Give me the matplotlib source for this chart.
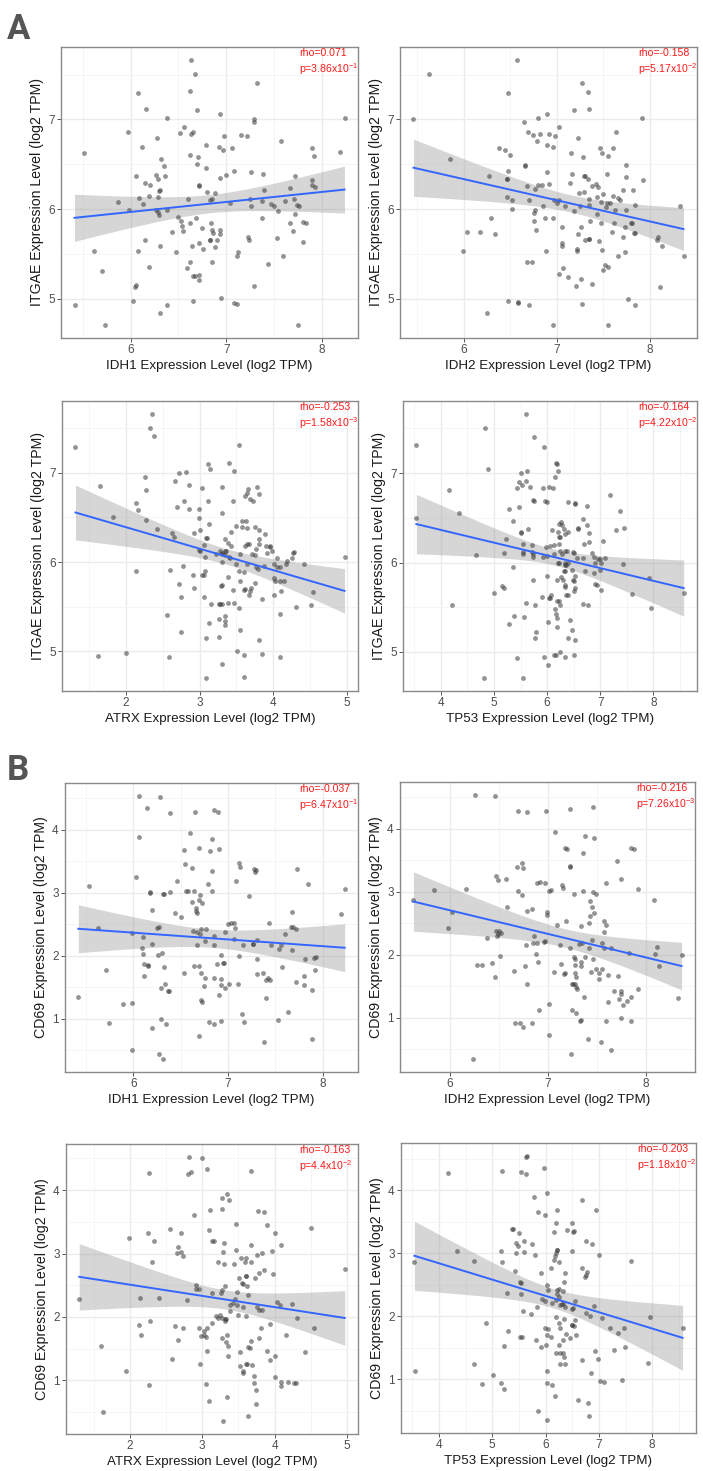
import numpy as np
import matplotlib
matplotlib.use("Agg")
import matplotlib.pyplot as plt
from matplotlib.ticker import MultipleLocator

plt.rcParams['font.family'] = ['Liberation Sans', 'DejaVu Sans']
plt.rcParams['mathtext.fontset'] = 'custom'
plt.rcParams['mathtext.rm'] = 'Liberation Sans'

# ---------------- data ----------------
A_IDH1 = [(6.63,7.66),(6.67,7.51),(6.62,7.32),(7.32,7.41),(6.08,7.29),(6.69,7.10),(6.16,7.12),(6.38,7.02),
 (6.93,7.06),(7.29,7.01),(7.29,6.97),(8.24,7.02),(5.97,6.86),(6.56,6.91),(6.65,6.86),(6.63,6.84),(6.52,6.85),
 (7.16,6.83),(7.22,6.82),(6.98,6.81),(6.79,6.71),(7.57,6.76),(6.12,6.69),(6.27,6.79),(6.92,6.69),(6.97,6.66),
 (7.06,6.68),(7.90,6.68),(7.92,6.59),(8.19,6.64),(5.51,6.62),(6.62,6.60),(6.70,6.58),(6.32,6.56),(6.35,6.48),
 (6.69,6.50),(6.79,6.46),(7.08,6.43),(7.00,6.38),(6.93,6.35),(7.26,6.41),(7.39,6.39),(7.72,6.37),(6.05,6.37),
 (6.26,6.38),(6.15,6.29),(6.28,6.34),(6.36,6.37),(6.31,6.21),(6.20,6.27),(6.19,6.15),(6.72,6.27),(6.71,6.26),
 (6.80,6.19),(6.88,6.18),(7.67,6.23),(7.90,6.32),(7.90,6.27),(7.93,6.25),(5.87,6.08),(6.09,6.12),(6.13,6.06),
 (6.28,6.13),(6.30,6.20),(6.60,6.11),(6.83,6.10),(6.85,6.11),(7.04,6.07),(7.25,6.11),(7.26,6.04),(7.38,6.09),
 (7.40,6.21),(7.47,6.06),(7.50,6.03),(7.54,5.98),(7.62,6.09),(7.71,6.11),(7.74,6.05),(7.76,6.04),(5.98,5.99),
 (6.26,5.99),(6.28,5.97),(6.38,5.99),(6.30,5.93),(6.49,5.91),(6.53,5.87),(6.54,5.81),(6.62,5.84),(6.68,5.90),
 (6.75,5.79),(6.84,5.84),(6.85,5.77),(6.86,5.73),(6.93,5.77),(6.94,5.72),(6.90,5.66),(6.83,5.65),(6.72,5.62),
 (6.64,5.59),(6.76,5.55),(6.83,5.66),(6.88,5.58),(6.85,5.41),(6.43,5.75),(6.31,5.59),(6.15,5.66),(6.08,5.53),
 (5.61,5.53),(5.70,5.31),(6.19,5.35),(6.04,5.13),(6.05,5.15),(6.02,4.97),(5.41,4.93),(5.73,4.71),(6.31,4.84),
 (6.38,4.93),(6.65,4.97),(6.65,5.25),(6.59,5.34),(6.62,5.41),(6.71,5.27),(6.71,5.21),(6.67,5.25),(6.95,5.01),
 (7.08,4.95),(7.11,4.94),(7.12,5.52),(7.11,5.48),(7.23,5.69),(7.24,5.66),(7.38,5.90),(7.44,5.39),(7.53,5.68),
 (7.60,5.48),(7.72,5.95),(7.70,5.76),(7.67,5.85),(7.81,5.63),(7.81,5.86),(7.84,5.84),(7.75,4.71),(7.29,5.14),
 (6.47,5.52),(6.55,5.76)]

A_IDH2 = [(5.46,7.00),(5.63,7.51),(6.57,7.66),(7.27,7.41),(7.33,7.31),(6.47,7.29),(7.35,7.12),(7.18,7.10),
 (6.89,7.06),(6.80,7.02),(7.91,7.02),(6.65,6.97),(6.69,6.86),(6.74,6.83),(6.82,6.84),(7.02,6.92),(6.98,6.81),
 (6.91,6.84),(6.79,6.76),(6.96,6.69),(7.23,6.79),(7.64,6.86),(6.38,6.68),(6.44,6.66),(6.50,6.60),(6.89,6.71),
 (7.15,6.63),(7.28,6.58),(7.46,6.68),(7.48,6.63),(7.55,6.59),(7.60,6.68),(5.85,6.56),(6.66,6.49),(6.66,6.48),
 (6.48,6.43),(6.89,6.41),(7.16,6.39),(7.29,6.37),(7.30,6.37),(7.33,6.33),(7.54,6.39),(7.74,6.49),(7.74,6.36),
 (7.92,6.32),(6.27,6.37),(6.46,6.34),(6.46,6.33),(6.80,6.27),(6.84,6.27),(6.91,6.28),(6.68,6.26),(6.77,6.22),
 (7.14,6.29),(7.24,6.18),(7.29,6.19),(7.35,6.11),(7.44,6.25),(7.38,6.26),(7.42,6.28),(7.43,6.14),(7.50,6.17),
 (7.54,6.07),(7.57,6.07),(7.60,6.15),(7.68,6.10),(7.66,6.12),(7.71,6.21),(7.82,6.21),(7.84,6.05),(6.46,6.13),
 (6.52,6.10),(6.52,6.00),(6.70,6.10),(6.76,5.99),(6.75,5.96),(6.85,6.04),(6.97,6.10),(7.02,6.10),(7.09,6.04),
 (7.18,5.98),(7.25,6.03),(7.00,6.07),(7.35,6.05),(7.47,6.08),(7.43,5.94),(7.53,6.02),(7.62,5.99),(7.74,5.99),
 (7.61,5.85),(7.59,5.75),(7.47,5.85),(7.36,5.87),(7.26,5.80),(7.73,5.80),(7.80,5.85),(7.81,5.84),(7.84,5.73),
 (6.29,5.90),(6.34,5.72),(6.17,5.75),(6.03,5.75),(5.99,5.53),(6.75,5.87),(6.78,5.77),(6.87,5.90),(6.96,5.90),
 (7.05,5.80),(7.06,5.62),(7.06,5.59),(7.23,5.72),(7.22,5.55),(7.22,5.53),(7.30,5.66),(7.34,5.67),(7.35,5.67),
 (7.45,5.64),(7.48,5.54),(7.50,5.32),(7.52,5.38),(7.55,5.35),(7.66,5.48),(7.73,5.52),(7.71,5.69),(7.83,5.73),
 (8.08,5.66),(8.09,5.69),(8.13,5.59),(8.36,5.48),(8.32,6.04),(8.11,5.13),(7.76,5.00),(7.84,4.93),(7.55,4.71),
 (7.27,4.94),(7.02,5.28),(7.07,5.34),(7.12,5.24),(7.21,5.14),(7.26,5.22),(7.38,5.16),(6.88,5.53),(6.68,5.41),
 (6.73,5.41),(6.47,4.97),(6.58,4.96),(6.58,4.95),(6.70,4.93),(6.25,4.84),(6.96,4.71)]

A_ATRX = [(2.35,7.66),(2.32,7.51),(2.38,7.41),(1.31,7.29),(3.54,7.31),(3.11,7.10),(3.14,7.05),(3.40,7.11),
 (3.47,7.02),(2.81,7.01),(2.72,7.00),(2.25,6.96),(2.66,6.91),(1.64,6.85),(2.27,6.81),(3.03,6.83),(3.31,6.84),
 (3.66,6.82),(3.65,6.78),(3.78,6.84),(2.85,6.86),(3.69,6.71),(3.73,6.69),(3.62,6.74),(3.81,6.76),(3.11,6.69),
 (2.79,6.68),(3.45,6.68),(2.13,6.66),(2.16,6.58),(2.69,6.62),(2.86,6.59),(1.82,6.50),(2.27,6.47),(2.99,6.59),
 (3.30,6.55),(2.99,6.49),(3.13,6.43),(2.92,6.33),(3.00,6.36),(2.62,6.33),(2.65,6.28),(2.42,6.37),(3.57,6.46),
 (3.49,6.40),(3.63,6.46),(3.65,6.38),(3.75,6.39),(3.81,6.36),(3.89,6.32),(3.10,6.27),(3.08,6.27),(3.42,6.34),
 (3.58,6.39),(3.35,6.26),(3.34,6.12),(3.43,6.18),(3.38,6.21),(3.80,6.26),(3.80,6.20),(3.77,6.15),(3.62,6.18),
 (3.65,6.20),(3.67,6.20),(3.90,6.18),(3.95,6.18),(3.96,6.17),(3.91,6.10),(3.28,6.12),(3.36,6.12),(3.31,6.10),
 (2.99,6.14),(3.00,6.12),(3.06,6.19),(3.22,6.09),(3.30,6.09),(3.07,6.06),(3.34,6.08),(3.41,6.04),(3.55,6.09),
 (3.71,6.09),(3.75,6.08),(3.99,6.12),(4.05,6.04),(4.19,6.01),(4.26,6.05),(4.27,6.10),(4.28,6.11),(4.42,5.98),
 (4.01,5.98),(4.05,5.94),(4.09,5.94),(4.18,5.98),(3.31,6.00),(3.40,6.06),(3.50,5.98),(3.54,5.90),(3.65,5.98),
 (3.76,5.94),(3.79,5.92),(3.87,5.95),(3.07,5.90),(3.06,5.85),(2.91,5.85),(3.03,5.85),(3.30,5.74),(2.77,5.95),
 (2.60,5.91),(2.72,5.75),(2.92,5.71),(3.06,5.61),(3.38,5.83),(3.29,5.73),(3.45,5.69),(3.55,5.79),(3.60,5.69),
 (3.62,5.70),(3.67,5.63),(3.69,5.68),(3.70,5.71),(3.60,5.89),(3.75,5.77),(4.02,5.79),(4.01,5.82),(4.09,5.79),
 (4.15,5.79),(3.85,5.59),(4.01,5.63),(4.10,5.68),(4.54,5.66),(4.31,5.49),(4.51,5.52),(4.97,6.06),(3.15,5.53),
 (3.26,5.53),(3.27,5.53),(3.30,5.53),(3.39,5.54),(3.46,5.54),(3.53,5.48),(2.75,5.61),(2.56,5.41),(2.14,5.90),
 (2.74,5.22),(3.12,5.31),(3.26,5.36),(3.35,5.39),(3.35,5.34),(3.35,5.29),(3.26,5.16),(3.09,5.15),(3.55,5.24),
 (3.81,5.12),(4.09,5.42),(3.51,5.00),(3.60,4.96),(3.85,4.97),(4.09,4.93),(1.61,4.94),(2.00,4.98),(2.58,4.93),
 (3.30,4.85),(3.08,4.70),(3.60,4.71)]

A_TP53 = [(5.60,7.66),(4.84,7.50),(5.75,7.41),(3.54,7.31),(5.95,7.29),(4.89,7.05),(6.17,7.11),(6.18,7.10),
 (6.20,7.02),(6.14,6.96),(5.63,7.02),(5.51,7.00),(5.47,6.90),(5.53,6.87),(5.60,6.91),(5.44,6.83),(5.68,6.85),
 (5.93,6.83),(6.03,6.85),(6.12,6.83),(5.96,6.69),(5.99,6.68),(6.39,6.68),(6.52,6.67),(6.53,6.66),(4.16,6.81),
 (4.34,6.55),(7.19,6.76),(5.74,6.70),(5.75,6.69),(5.48,6.62),(6.75,6.63),(5.28,6.60),(5.35,6.47),(7.37,6.58),
 (5.65,6.37),(7.45,6.39),(7.30,6.36),(3.54,6.50),(5.51,6.34),(5.51,6.33),(6.09,6.36),(6.20,6.34),(6.23,6.43),
 (6.26,6.45),(6.29,6.42),(6.32,6.37),(6.33,6.32),(6.40,6.34),(6.59,6.39),(6.59,6.38),(6.67,6.49),(6.75,6.42),
 (6.78,6.33),(6.70,6.21),(6.79,6.23),(7.05,6.24),(6.23,6.29),(6.25,6.29),(6.23,6.21),(6.13,6.20),(6.05,6.18),
 (5.98,6.17),(5.54,6.21),(5.55,6.10),(5.55,6.12),(5.72,6.20),(5.72,6.12),(5.73,6.10),(5.23,6.26),(5.19,6.11),
 (4.66,6.08),(5.73,6.06),(5.93,6.06),(5.99,6.07),(6.34,6.13),(6.37,6.13),(6.28,6.10),(6.25,6.13),(6.21,6.00),
 (6.13,6.10),(6.23,6.00),(6.33,5.99),(6.39,5.99),(6.49,6.12),(6.50,6.11),(6.67,6.05),(6.84,6.11),(6.89,6.06),
 (6.95,6.04),(6.99,6.04),(7.02,6.00),(7.09,6.05),(6.91,6.00),(6.57,6.05),(6.27,5.84),(6.32,5.90),(6.33,5.97),
 (6.33,5.90),(6.36,5.97),(6.47,5.92),(6.52,5.85),(6.72,5.90),(7.00,5.92),(7.43,5.98),(5.36,5.95),(6.00,5.85),
 (6.18,5.81),(6.30,5.80),(6.33,5.75),(6.34,5.73),(6.40,5.64),(6.36,5.64),(6.49,5.80),(6.50,5.68),(6.53,5.71),
 (6.88,5.88),(6.90,5.76),(6.94,5.75),(7.01,5.69),(6.51,5.79),(5.16,5.74),(5.19,5.71),(5.01,5.66),(5.73,5.80),
 (6.03,5.60),(6.06,5.60),(5.90,5.61),(6.07,5.64),(6.18,5.57),(6.23,5.57),(6.25,5.53),(5.61,5.55),(5.78,5.53),
 (6.15,5.48),(6.17,5.42),(6.18,5.38),(6.02,5.34),(5.56,5.39),(5.37,5.40),(5.28,5.31),(5.80,5.22),(5.78,5.16),
 (6.18,5.28),(6.40,5.15),(6.43,5.36),(6.46,5.25),(6.52,5.13),(6.68,5.54),(6.77,5.53),(7.59,5.65),(7.91,5.83),
 (7.96,5.49),(8.57,5.66),(4.21,5.52),(6.13,4.97),(6.17,4.96),(6.24,5.00),(6.33,4.94),(6.50,4.97),(5.95,4.94),
 (6.02,4.85),(5.44,4.93),(5.54,4.71),(4.82,4.71)]

B_IDH1 = [(6.06,4.53),(6.28,4.52),(6.14,4.34),(6.65,4.28),(6.85,4.31),(6.89,4.28),(6.39,4.26),(6.06,3.88),
 (6.60,3.94),(6.83,3.85),(6.53,3.67),(6.81,3.66),(6.90,3.69),(6.69,3.70),(6.55,3.46),(6.62,3.39),(6.83,3.34),
 (7.13,3.40),(7.12,3.47),(7.27,3.37),(7.28,3.33),(7.29,3.36),(7.73,3.38),(6.03,3.25),(5.53,3.11),(6.46,3.19),
 (7.08,3.18),(6.79,3.14),(6.83,3.02),(6.64,3.03),(6.56,3.03),(6.58,3.03),(6.18,3.01),(6.32,2.98),(6.39,3.01),
 (6.18,2.99),(6.31,2.97),(6.70,2.96),(6.62,2.85),(6.69,2.88),(7.22,2.95),(7.84,3.14),(8.23,3.06),(8.19,2.66),
 (7.67,2.69),(6.20,2.72),(6.44,2.67),(6.50,2.61),(6.25,2.44),(5.99,2.35),(6.10,2.29),(6.27,2.45),(5.63,2.43),
 (6.09,2.12),(6.10,2.02),(6.20,2.18),(6.66,2.76),(6.66,2.71),(6.73,2.84),(6.67,2.67),(6.71,2.42),(6.77,2.42),
 (7.00,2.50),(6.97,2.37),(7.03,2.51),(7.06,2.52),(7.07,2.44),(6.67,2.37),(6.70,2.34),(6.63,2.39),(6.67,2.16),
 (6.76,2.23),(6.85,2.16),(6.85,2.31),(7.06,2.27),(7.16,2.17),(7.26,2.19),(7.26,2.18),(7.31,2.24),(7.43,2.52),
 (7.45,2.17),(7.56,2.16),(7.60,2.34),(7.66,2.46),(7.68,2.45),(7.72,2.42),(7.67,2.09),(7.54,2.11),(6.26,2.01),
 (6.30,2.04),(6.11,1.87),(6.16,1.85),(6.16,1.83),(6.32,1.82),(6.54,1.72),(6.64,1.83),(6.69,1.83),(6.71,1.73),
 (6.76,1.64),(6.85,1.64),(6.88,1.87),(6.95,1.88),(6.93,2.01),(6.96,1.88),(6.92,1.63),(7.12,1.99),(7.31,1.94),
 (7.37,1.73),(7.42,1.65),(7.40,1.61),(7.44,1.61),(7.57,1.82),(7.81,1.95),(7.91,1.96),(7.93,1.97),(7.92,1.77),
 (7.80,1.68),(7.80,1.53),(7.72,1.58),(5.71,1.77),(6.11,1.68),(6.29,1.49),(6.33,1.55),(6.37,1.44),(6.38,1.44),
 (6.75,1.51),(6.92,1.53),(6.97,1.49),(7.01,1.55),(6.90,1.37),(6.71,1.30),(6.73,1.26),(7.10,1.55),(7.30,1.71),
 (7.40,1.32),(7.63,1.11),(7.53,0.97),(7.15,1.07),(7.17,0.95),(6.80,0.95),(6.85,0.92),(6.93,0.96),(5.74,0.93),
 (5.89,1.23),(5.99,1.25),(6.29,1.00),(6.20,0.85),(6.35,0.92),(6.69,0.73),(5.99,0.50),(6.27,0.43),(6.31,0.36),
 (7.38,0.62),(7.88,0.67),(5.42,1.34),(7.89,1.46)]

B_IDH2 = [(6.26,4.53),(6.46,4.52),(6.69,4.28),(6.79,4.26),(6.98,4.28),(7.22,4.31),(7.46,4.34),(7.07,3.94),
 (7.38,3.88),(7.47,3.85),(7.17,3.70),(7.19,3.68),(7.36,3.61),(7.84,3.69),(7.88,3.68),(6.74,3.46),(6.75,3.37),
 (6.68,3.39),(7.22,3.39),(7.22,3.41),(7.70,3.48),(7.74,3.20),(6.47,3.25),(6.49,3.19),(6.57,3.20),(6.89,3.14),
 (6.92,3.16),(6.97,3.14),(7.59,3.14),(5.63,2.87),(5.84,3.03),(6.17,3.04),(6.69,3.01),(6.74,2.94),(7.14,3.11),
 (7.15,3.06),(7.03,3.02),(7.01,3.01),(7.26,2.97),(7.36,3.01),(7.46,2.99),(7.49,2.97),(7.92,3.05),(8.08,2.87),
 (6.02,2.67),(5.98,2.43),(6.58,2.76),(6.99,2.67),(6.99,2.63),(6.79,2.70),(6.84,2.72),(7.09,2.47),(7.18,2.54),
 (7.34,2.45),(7.43,2.86),(7.45,2.75),(7.43,2.61),(7.42,2.51),(7.47,2.66),(7.57,2.54),(7.59,2.47),(7.57,2.36),
 (6.47,2.37),(6.49,2.33),(6.48,2.29),(6.50,2.37),(6.52,2.34),(6.38,2.27),(6.97,2.22),(6.86,2.30),(6.85,2.19),
 (6.89,2.19),(6.96,2.21),(7.12,2.16),(7.22,2.10),(7.32,2.17),(7.35,2.18),(7.42,2.10),(7.45,2.23),(7.55,2.19),
 (7.57,2.10),(8.11,2.12),(8.09,2.01),(8.13,1.82),(8.36,1.99),(7.64,2.10),(7.82,2.03),(6.78,2.16),(6.88,2.01),
 (6.90,1.88),(6.77,1.82),(7.26,1.97),(7.28,1.93),(7.34,1.88),(7.38,1.97),(7.27,1.83),(7.29,1.64),(7.13,1.85),
 (6.43,1.87),(6.28,1.83),(6.33,1.83),(6.51,1.98),(6.46,1.64),(6.65,1.74),(6.79,1.53),(7.06,1.72),(7.16,1.70),
 (7.17,1.71),(7.27,1.71),(7.28,1.53),(7.29,1.49),(7.30,1.46),(7.25,1.54),(7.24,1.54),(7.34,1.82),(7.44,1.72),
 (7.46,1.93),(7.49,1.78),(7.52,1.71),(7.55,1.78),(7.52,1.61),(7.71,1.66),(7.61,1.68),(7.74,1.43),(7.74,1.37),
 (7.72,1.30),(7.76,1.21),(7.80,1.27),(7.84,1.33),(7.92,1.46),(7.61,1.25),(7.67,1.43),(7.37,1.33),(7.59,0.95),
 (7.74,0.99),(7.84,0.95),(7.34,0.97),(7.33,0.95),(7.29,1.07),(7.24,1.13),(7.01,1.22),(6.91,1.13),(6.75,0.85),
 (6.72,0.91),(6.66,0.92),(6.84,0.92),(7.01,0.72),(7.41,0.67),(7.54,0.62),(7.64,0.49),(7.23,0.42),(6.24,0.35),
 (8.32,1.32)]

B_ATRX = [(2.82,4.52),(2.99,4.51),(2.80,4.25),(2.84,4.28),(2.27,4.27),(3.06,4.34),(3.68,4.30),(3.34,3.94),
 (3.27,3.88),(3.37,3.85),(3.28,3.70),(3.11,3.69),(3.77,3.67),(3.85,3.65),(2.89,3.60),(3.90,3.45),(3.46,3.47),
 (2.25,3.33),(2.55,3.39),(2.71,3.32),(3.09,3.37),(1.99,3.24),(2.34,3.19),(3.13,3.19),(3.16,3.19),(3.30,3.16),
 (4.51,3.40),(4.01,3.33),(4.09,3.13),(3.68,3.13),(2.67,3.10),(2.71,3.02),(2.65,3.01),(2.73,2.96),(2.31,2.87),
 (3.29,3.02),(3.46,3.05),(3.76,2.98),(3.82,3.01),(3.97,3.04),(3.67,2.86),(3.54,2.93),(3.61,2.93),(3.59,2.87),
 (3.44,2.84),(3.30,2.84),(3.22,2.86),(4.97,2.76),(3.60,2.65),(3.51,2.61),(3.61,2.65),(3.55,2.53),(3.56,2.52),
 (3.62,2.49),(3.73,2.61),(3.78,2.69),(3.86,2.74),(3.98,2.67),(2.91,2.51),(2.92,2.44),(2.95,2.44),(3.27,2.42),
 (3.32,2.48),(3.26,2.37),(3.14,2.37),(3.63,2.34),(3.48,2.39),(3.45,2.29),(3.42,2.22),(3.38,2.18),(3.48,2.18),
 (2.79,2.26),(2.40,2.30),(2.14,2.30),(1.30,2.29),(2.28,1.93),(2.12,1.87),(2.16,1.72),(2.62,1.86),(2.74,1.82),
 (2.67,1.64),(2.96,1.82),(3.06,1.82),(3.05,1.69),(2.98,1.70),(3.02,1.71),(3.13,1.90),(3.22,1.99),(3.24,2.03),
 (3.19,2.02),(3.28,1.98),(3.33,1.97),(3.32,1.93),(3.32,1.96),(3.39,2.09),(3.49,2.03),(3.57,2.15),(3.61,2.01),
 (3.76,2.15),(3.78,2.11),(3.82,2.11),(4.04,2.23),(4.07,2.18),(4.24,2.20),(4.31,1.99),(4.55,1.83),(4.16,1.72),
 (3.81,1.82),(3.94,1.88),(3.78,1.66),(3.68,1.62),(3.66,1.51),(3.63,1.53),(3.34,1.72),(3.33,1.60),(3.28,1.67),
 (3.35,1.54),(3.02,1.78),(3.35,1.39),(3.52,1.44),(3.89,1.46),(3.93,1.32),(4.42,1.45),(4.00,1.38),(3.62,1.25),
 (3.60,1.26),(3.69,1.24),(3.52,1.22),(3.56,1.15),(3.57,1.12),(3.71,1.07),(3.71,0.96),(3.75,0.85),(3.74,0.63),
 (4.01,1.05),(2.97,1.25),(3.07,1.46),(2.58,1.34),(1.60,1.54),(1.94,1.15),(2.27,0.93),(3.05,0.94),(3.10,0.67),
 (3.34,0.73),(3.63,0.43),(3.29,0.36),(1.63,0.50),(4.18,0.97),(4.09,0.97),(4.09,0.91),(4.27,0.95),(4.29,0.95)]

B_TP53 = [(5.63,4.53),(5.66,4.54),(4.17,4.28),(5.18,4.31),(5.54,4.29),(5.63,4.26),(5.97,4.35),(6.03,3.95),
 (5.79,3.89),(6.68,3.85),(6.95,3.69),(6.22,3.69),(5.85,3.66),(5.99,3.61),(6.20,3.48),(5.37,3.38),(5.38,3.38),
 (5.50,3.32),(6.49,3.48),(6.54,3.35),(6.40,3.37),(6.51,3.34),(6.15,3.34),(5.44,3.16),(5.48,3.12),(5.59,3.19),
 (5.74,3.14),(5.16,3.04),(5.45,3.01),(5.60,3.02),(5.81,2.97),(4.34,3.03),(6.22,3.06),(6.22,3.05),(6.19,3.00),
 (6.17,2.95),(6.76,3.20),(6.87,3.15),(7.01,2.97),(6.49,3.03),(7.60,2.88),(4.66,2.88),(5.19,2.87),(6.26,2.87),
 (3.54,2.86),(5.42,2.72),(6.15,2.90),(6.11,2.76),(6.69,2.76),(6.77,2.70),(6.75,2.66),(6.74,2.63),(5.91,2.68),
 (6.36,2.69),(6.35,2.54),(6.03,2.50),(6.05,2.42),(6.22,2.42),(6.21,2.36),(6.25,2.44),(6.32,2.40),(5.52,2.54),
 (5.54,2.53),(5.54,2.35),(5.28,2.37),(5.83,2.15),(5.58,2.09),(5.73,2.03),(5.93,2.27),(5.98,2.25),(6.12,2.21),
 (6.19,2.26),(6.25,2.30),(6.27,2.18),(6.30,2.20),(6.32,2.19),(6.36,2.15),(6.50,2.12),(6.52,2.14),(6.56,2.24),
 (6.75,2.05),(6.83,2.01),(6.91,2.17),(7.06,1.97),(7.96,1.99),(7.47,1.82),(5.98,1.81),(6.05,1.80),(6.20,1.99),
 (6.25,1.89),(6.28,1.81),(6.34,1.96),(6.39,1.72),(6.53,1.84),(6.49,1.87),(6.50,1.86),(6.56,1.94),(6.58,1.71),
 (6.45,1.66),(6.33,1.62),(6.02,1.71),(5.92,1.52),(6.10,1.68),(6.25,1.54),(6.27,1.42),(6.34,1.36),(6.37,1.24),
 (6.27,1.24),(6.32,1.42),(6.20,1.42),(6.01,1.54),(5.82,1.63),(5.55,1.67),(5.52,1.67),(5.30,1.77),(5.22,1.53),
 (4.88,1.89),(4.65,1.24),(5.01,1.07),(4.80,0.93),(5.17,0.95),(5.22,0.85),(6.68,1.31),(6.92,1.45),(6.98,1.33),
 (7.20,1.82),(7.36,1.73),(7.49,1.52),(7.28,1.46),(7.43,0.99),(7.03,0.97),(7.10,0.96),(6.86,1.10),(6.03,1.13),
 (6.13,0.91),(6.18,0.73),(6.03,0.95),(5.86,0.50),(6.02,0.36),(6.60,0.67),(6.79,0.62),(6.81,0.42),(7.92,1.26),
 (8.57,1.82),(3.55,1.14)]

panel_points = [A_IDH1, A_IDH2, A_ATRX, A_TP53, B_IDH1, B_IDH2, B_ATRX, B_TP53]
x_genes = ["IDH1", "IDH2", "ATRX", "TP53", "IDH1", "IDH2", "ATRX", "TP53"]
y_genes = ["ITGAE"] * 4 + ["CD69"] * 4
rho_values = ["0.071", "-0.158", "-0.253", "-0.164", "-0.037", "-0.216", "-0.163", "-0.203"]
p_mantissa = ["3.86", "5.17", "1.58", "4.22", "6.47", "7.26", "4.4", "1.18"]
p_exponent = ["-1", "-2", "-3", "-2", "-1", "-3", "-2", "-2"]

# ---------------- layout ----------------
W, H = 703, 1471
fig = plt.figure(figsize=(W / 100, H / 100), dpi=100)
fig.patch.set_facecolor('white')

# axes boxes in pixels: left, top, right, bottom
boxes = [(61, 47, 358, 338), (400, 47, 697, 338),
         (62, 401, 358, 691), (403, 401, 697, 691),
         (65, 783, 358, 1072), (400, 782, 695, 1072),
         (66, 1144, 358, 1434), (401, 1143, 696, 1433)]


def t975(df):
    z = 1.959964
    return z + (z**3 + z) / (4 * df) + (5 * z**5 + 16 * z**3 + 3 * z) / (96 * df**2)


for i, (pts, box) in enumerate(zip(panel_points, boxes)):
    l, t, r, b = box
    ax = fig.add_axes([l / W, 1 - b / H, (r - l) / W, (b - t) / H])
    arr = np.array(pts)
    x, y = arr[:, 0], arr[:, 1]

    # OLS fit with 95% confidence band (as geom_smooth(method='lm'))
    n = len(x)
    xm = x.mean()
    sxx = ((x - xm) ** 2).sum()
    slope = ((x - xm) * (y - y.mean())).sum() / sxx
    inter = y.mean() - slope * xm
    resid = y - (inter + slope * x)
    s = np.sqrt((resid ** 2).sum() / (n - 2))
    xs = np.linspace(x.min(), x.max(), 200)
    ys = inter + slope * xs
    se = s * np.sqrt(1 / n + (xs - xm) ** 2 / sxx)
    tq = t975(n - 2)

    ax.fill_between(xs, ys - tq * se, ys + tq * se, color='#999999', alpha=0.4, lw=0, zorder=2)
    ax.scatter(x, y, s=12, color='#3a3a3a', alpha=0.55, lw=0, zorder=3)
    ax.plot(xs, ys, color='#3366FF', lw=1.4, zorder=4)

    xr = x.max() - x.min()
    yr = y.max() - y.min()
    ax.set_xlim(x.min() - 0.05 * xr, x.max() + 0.05 * xr)
    ax.set_ylim(y.min() - 0.05 * yr, y.max() + 0.05 * yr)

    ax.xaxis.set_major_locator(MultipleLocator(1))
    ax.yaxis.set_major_locator(MultipleLocator(1))
    ax.xaxis.set_minor_locator(MultipleLocator(0.5))
    ax.yaxis.set_minor_locator(MultipleLocator(0.5))
    ax.grid(which='major', color='#EBEBEB', lw=1.0, zorder=0)
    ax.grid(which='minor', color='#F4F4F4', lw=0.6, zorder=0)
    ax.set_axisbelow(True)
    ax.tick_params(which='minor', length=0)
    ax.tick_params(which='major', length=3, width=0.7, color='#555555',
                   labelsize=8.5, labelcolor='#4D4D4D', pad=1.5)
    for sp in ax.spines.values():
        sp.set_color('#8a8a8a')
        sp.set_linewidth(1.0)

    ax.set_xlabel(f"{x_genes[i]} Expression Level (log2 TPM)", fontsize=9.6, labelpad=3, color='#1a1a1a')
    ax.set_ylabel(f"{y_genes[i]} Expression Level (log2 TPM)", fontsize=10.2, labelpad=3, color='#1a1a1a')

    # correlation annotation: two left-aligned lines near the top-right corner
    ax.annotate(f"rho={rho_values[i]}", xy=(1, 1), xycoords='axes fraction', xytext=(-59, -6),
                textcoords='offset pixels', ha='left', va='center',
                color='#FF1A1A', fontsize=7.6, zorder=6)
    ax.annotate(f"p={p_mantissa[i]}x10$^{{\\mathregular{{{p_exponent[i]}}}}}$", xy=(1, 1),
                xycoords='axes fraction', xytext=(-59, -20), textcoords='offset pixels',
                ha='left', va='center_baseline', color='#FF1A1A', fontsize=7.6, zorder=6)

fig.text(7 / W, 1 - 39 / H, "A", fontsize=25, fontweight='bold', color='#555555',
         family=['Roboto', 'DejaVu Sans'], ha='left', va='baseline')
fig.text(7 / W, 1 - 780 / H, "B", fontsize=25, fontweight='bold', color='#555555',
         family=['Roboto', 'DejaVu Sans'], ha='left', va='baseline')

fig.savefig("out.png", dpi=100, facecolor='white')
